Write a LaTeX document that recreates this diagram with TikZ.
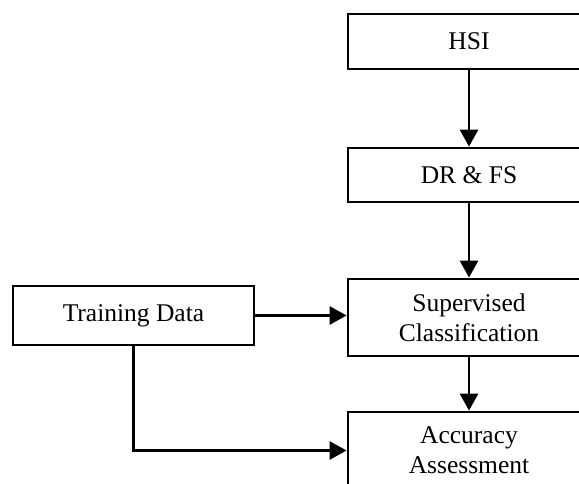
\documentclass[tikz,border=0pt]{standalone}
\usepackage{fontspec}
\setmainfont{Liberation Serif}
\usetikzlibrary{arrows.meta,positioning}

\tikzset{
  box/.style={draw, line width=2.8pt, minimum width=242pt, inner sep=0pt,
    align=center, font=\fontsize{25.5}{30}\selectfont},
  arr/.style={line width=2.8pt, -{Triangle[length=17pt,width=18pt]}}
}

\begin{document}
\begin{tikzpicture}[x=1pt, y=-1pt]
  \useasboundingbox (0,0) rectangle (579,484);

  % Main chain (right)
  \node[box, minimum height=55pt] (hsi) at (469, 41.5) {HSI};
  \node[box, minimum height=54pt] (drfs) at (469, 175) {DR \& FS};
  \node[box, minimum height=77pt] (sup) at (469, 317.5) {Supervised\\Classification};
  \node[box, minimum height=77pt] (acc) at (469, 450.5) {Accuracy\\Assessment};

  % Training input (left)
  \node[box, minimum width=241pt, minimum height=59pt] (train) at (133.5, 315.5) {Training Data};

  \draw[arr] (hsi) -- (drfs);
  \draw[arr] (drfs) -- (sup);
  \draw[arr] (sup) -- (acc);
  \draw[arr] (train.east) -- (train.east -| sup.west);
  \draw[arr] (train.south) |- (acc.west);
\end{tikzpicture}
\end{document}
